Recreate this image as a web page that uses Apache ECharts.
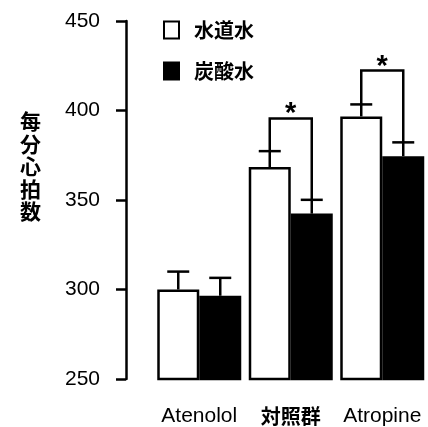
<!DOCTYPE html>
<html>
<head>
<meta charset="utf-8">
<script src="https://cdn.jsdelivr.net/npm/echarts@6/dist/echarts.min.js"></script>
<style>html,body{margin:0;padding:0;background:#fff}#c{width:428px;height:427px}</style>
</head>
<body>
<div id="c"></div>
<script>
const categories = ['Atenolol', '対照群', 'Atropine'];
const seriesNames = ['水道水', '炭酸水'];
const tapWater = [300, 368.4, 396.7];
const tapWaterErrTop = [310, 377.3, 403.4];
const sodaWater = [296.5, 342.4, 374.5];
const sodaWaterErrTop = [306.5, 350.1, 382.2];
// significance brackets: [categoryIndex, bracketTopValue]
const brackets = [[1, 395.6], [2, 422.3]];
const yTicks = [250, 300, 350, 400, 450];

const FONT = '"Liberation Sans", Arial, "Noto Sans CJK JP", sans-serif';
const BAR_W = 42;
const HALF = BAR_W / 2;

const errData = [];
categories.forEach((c, i) => {
  errData.push([i, tapWater[i], tapWaterErrTop[i], -1]);
  errData.push([i, sodaWater[i], sodaWaterErrTop[i], 1]);
});
const bracketData = brackets.map(b => [b[0], tapWaterErrTop[b[0]], sodaWaterErrTop[b[0]], b[1]]);

const chart = echarts.init(document.getElementById('c'), null, {renderer: 'canvas'});
chart.setOption({
  animation: false,
  backgroundColor: '#fff',
  grid: {left: 153.5, top: 21, width: 279.75, height: 360.5},
  legend: {
    orient: 'vertical', left: 163, top: 20, icon: 'rect',
    itemWidth: 15, itemHeight: 17, itemGap: 21, padding: 0,
    data: seriesNames,
    textStyle: {fontSize: 20, fontWeight: 'bold', color: '#000', fontFamily: '"Noto Sans CJK JP", sans-serif', padding: [0, 0, 0, 10]}
  },
  xAxis: {
    type: 'category', data: categories,
    axisLine: {show: false}, axisTick: {show: false},
    axisLabel: {interval: 0, fontSize: 21, color: '#000', margin: 27, fontFamily: FONT,
      formatter: v => /[^\x00-\x7F]/.test(v) ? '{cjk|' + v + '}' : v,
      rich: {cjk: {fontSize: 20, fontWeight: 'bold', fontFamily: '"Noto Sans CJK JP", sans-serif', color: '#000'}}}
  },
  yAxis: {
    type: 'value', min: yTicks[0], max: yTicks[yTicks.length - 1], interval: 50,
    offset: 27.5,
    axisLine: {show: true, lineStyle: {color: '#000', width: 2.5}},
    axisTick: {show: true, length: 10, lineStyle: {color: '#000', width: 2.5}},
    splitLine: {show: false},
    axisLabel: {fontSize: 21, color: '#000', margin: 26, fontFamily: FONT}
  },
  graphic: [{
    type: 'text', left: 20, top: 110,
    style: {text: '每\n分\n心\n拍\n数', font: 'bold 21px "Noto Sans CJK JP"', lineHeight: 22.5, fill: '#000'}
  }],
  series: [
    {name: seriesNames[0], type: 'bar', data: tapWater, barWidth: BAR_W, barGap: '0%',
     itemStyle: {color: '#fff', borderColor: '#000', borderWidth: 2.5}},
    {name: seriesNames[1], type: 'bar', data: sodaWater, barWidth: BAR_W, barGap: '0%',
     itemStyle: {color: '#000', borderColor: '#000', borderWidth: 2.5}},
    {type: 'custom', data: errData, z: 5,
     renderItem: function (params, api) {
       const cat = api.value(0), side = api.value(3);
       const p0 = api.coord([cat, api.value(1)]);
       const p1 = api.coord([cat, api.value(2)]);
       const x = p0[0] + side * HALF;
       const st = {stroke: '#000', lineWidth: 2.5};
       return {type: 'group', children: [
         {type: 'line', shape: {x1: x, y1: p0[1], x2: x, y2: p1[1]}, style: st},
         {type: 'line', shape: {x1: x - 11, y1: p1[1], x2: x + 11, y2: p1[1]}, style: st}
       ]};
     }},
    {type: 'custom', data: bracketData, z: 6,
     renderItem: function (params, api) {
       const cat = api.value(0);
       const pl = api.coord([cat, api.value(1)]);
       const pr = api.coord([cat, api.value(2)]);
       const pt = api.coord([cat, api.value(3)]);
       const xl = pl[0] - HALF, xr = pl[0] + HALF;
       return {type: 'group', children: [
         {type: 'polyline', shape: {points: [[xl, pl[1]], [xl, pt[1]], [xr, pt[1]], [xr, pr[1]]]},
          style: {stroke: '#000', lineWidth: 2.5, fill: null}},
         {type: 'text', x: pl[0], y: pt[1] - 4,
          style: {text: '*', font: 'bold 29px "Liberation Sans"', fill: '#000', align: 'center', verticalAlign: 'middle'}}
       ]};
     }}
  ]
});
</script>
</body>
</html>
